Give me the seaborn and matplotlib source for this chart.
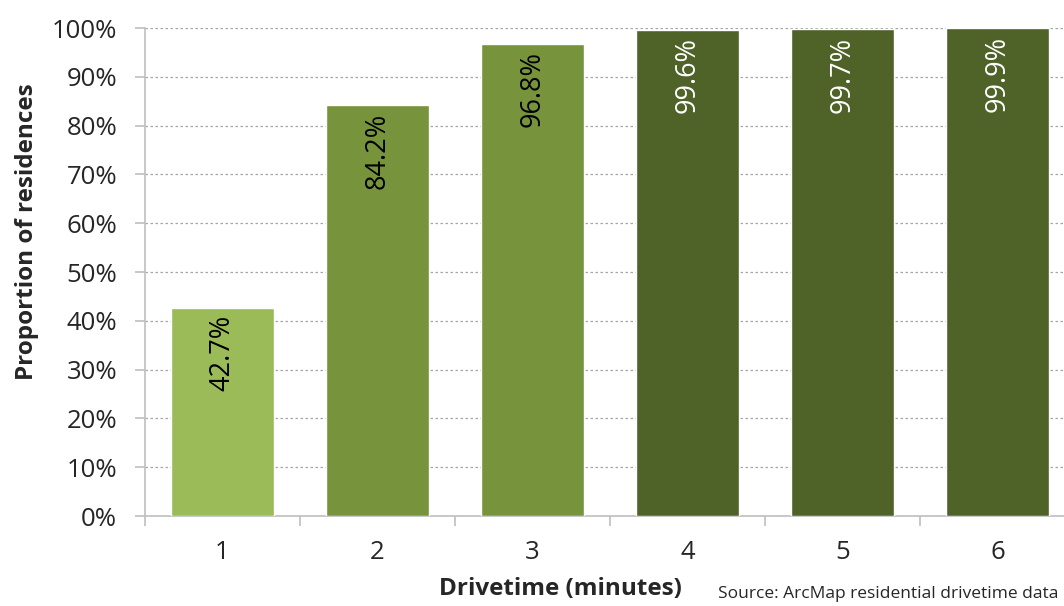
import matplotlib.pyplot as plt
import seaborn as sns
import pandas as pd
from matplotlib.ticker import FixedLocator, PercentFormatter

# values
drivetime = ['1', '2', '3', '4', '5', '6']
share = [42.7, 84.2, 96.8, 99.6, 99.7, 99.9]
bar_colors = ['#9BBB59', '#77933C', '#77933C', '#4F6228', '#4F6228', '#4F6228']
label_colors = ['black', 'black', 'black', 'white', 'white', 'white']

df = pd.DataFrame({'drivetime': drivetime, 'share': share})

sns.set_style('white')
plt.rcParams['font.family'] = ['Open Sans', 'DejaVu Sans']

fig = plt.figure(figsize=(10.64, 6.06), dpi=100)
# axes runs a little past the right edge, as in the cropped original
ax = fig.add_axes([145 / 1064, 90 / 606, 930 / 1064, 488 / 606])

sns.barplot(data=df, x='drivetime', y='share', hue='drivetime',
            palette=bar_colors, legend=False, width=0.665, saturation=1,
            ax=ax, zorder=3)

ax.set_ylim(0, 100)
ax.set_xlim(-0.5, 5.5)
ax.yaxis.set_major_locator(FixedLocator(range(0, 101, 10)))
ax.yaxis.set_major_formatter(PercentFormatter(decimals=0))
ax.grid(axis='y', color='#A6A6A6', linestyle=(0, (2, 2)), linewidth=0.9, zorder=0)
ax.grid(axis='x', visible=False)

for s in ['top', 'right']:
    ax.spines[s].set_visible(False)
for s in ['left', 'bottom']:
    ax.spines[s].set_color('#BFBFBF')
    ax.spines[s].set_linewidth(1.2)

# ticks between categories on x, outward ticks on y
ax.xaxis.set_minor_locator(FixedLocator([i - 0.5 for i in range(len(drivetime) + 1)]))
ax.tick_params(axis='x', which='major', length=0, pad=17, labelsize=18.5, colors='#262626')
ax.tick_params(axis='x', which='minor', bottom=True, length=7, color='#BFBFBF', width=1.2)
ax.tick_params(axis='y', left=True, length=7, color='#BFBFBF', width=1.2,
               labelsize=18.5, pad=13, labelcolor='#262626')

ax.set_xlabel('Drivetime (minutes)', fontsize=17.5, fontweight='bold')
ax.set_ylabel('Proportion of residences', fontsize=17.5, fontweight='bold')
ax.xaxis.set_label_coords(415 / 930, -61 / 488)
ax.yaxis.set_label_coords(-106 / 930, 284 / 488)

for i, (v, c) in enumerate(zip(share, label_colors)):
    ax.text(i, v - 1.5, f'{v:.1f}%', rotation=90, ha='center', va='top',
            fontsize=19.5, color=c, zorder=4)

fig.text(718 / 1064, 20 / 606, 'Source: ArcMap residential drivetime data',
         fontsize=12.5, ha='left', va='top', color='#262626')

fig.savefig('out.png', dpi=100)
